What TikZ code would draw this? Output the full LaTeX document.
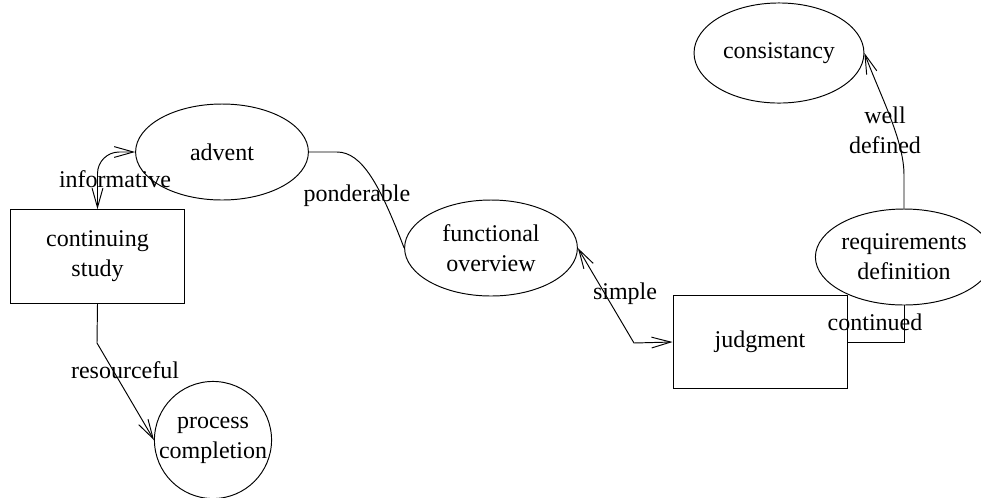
\documentclass[tikz,border=0pt]{standalone}
\usepackage{fontspec}
\setmainfont{Liberation Serif}
\usetikzlibrary{arrows.meta, positioning, shapes.geometric}
\tikzset{
  oval/.style={draw, ellipse, inner sep=0pt, minimum width=72pt, minimum height=40pt, align=center, font=\fontsize{10}{12.5}\selectfont},
  rectbox/.style={draw, rectangle, inner sep=0pt, minimum width=72.5pt, minimum height=39pt, align=center, font=\fontsize{10}{12.5}\selectfont},
  roundbox/.style={draw, circle, inner sep=0pt, minimum size=48.3pt, align=center, font=\fontsize{10}{12.5}\selectfont},
  lbl/.style={inner sep=1pt, align=center, font=\fontsize{10}{12.5}\selectfont},
  conn/.style={line width=0.4pt, >={Straight Barb[length=8pt,width=4.5pt]}},
}
\begin{document}
\begin{tikzpicture}[x=0.4167pt, y=-0.4167pt]
  \useasboundingbox (0,0) rectangle (981,497);
  \node[oval, minimum width=70.8pt, minimum height=41.7pt] (consist) at (779,53) {consistancy};
  \node[oval] (advent) at (222,152) {advent};
  \node[rectbox] (contstudy) at (97.5,256.5) {continuing\\study};
  \node[roundbox] (proccomp) at (213,440) {process\\completion};
  \node[oval] (funcover) at (491,248) {functional\\overview};
  \node[rectbox] (judg) at (760,342) {judgment};
  \node[oval] (reqdef) at (904,257) {requirements\\definition};
  % connectors
  \draw[conn, <->, rounded corners=9pt] (advent.west) -| (contstudy.north);
  \draw[conn] (advent.east) -- (337,152) .. controls (362,152) and (380,185) .. (funcover.west);
  \draw[conn, <->] (funcover.east) -- (634,343) -- (judg.west);
  \draw[conn] (judg.east) -| (reqdef.south);
  \draw[conn, ->] (reqdef.north) -- (904,175) .. controls (904,140) and (880,95) .. (consist.east);
  \draw[conn, ->] (contstudy.south) -- (97,343) -- (proccomp.west);
  % labels
  \node[lbl] (informlbl) at (115,179) {informative};
  \node[lbl] (ponderlbl) at (357,196) {ponderable};
  \node[lbl] (simplelbl) at (625,294) {simple};
  \node[lbl] (contlbl) at (875,322) {continued};
  \node[lbl] (welllbl) at (885,130) {well\\defined};
  \node[lbl] (resourcelbl) at (125,370) {resourceful};
\end{tikzpicture}
\end{document}
